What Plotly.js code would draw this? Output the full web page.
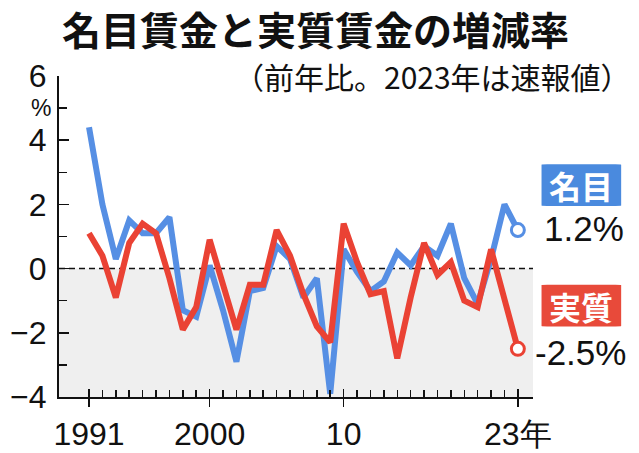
<!DOCTYPE html>
<html>
<head>
<meta charset="utf-8">
<script src="https://cdn.plot.ly/plotly-3.0.1.min.js"></script>
<style>
  body { margin: 0; background: #fff; }
  #myDiv { width: 639px; height: 453px; }
</style>
</head>
<body>
<div id="myDiv"></div>
<script>
var years = [1991, 1992, 1993, 1994, 1995, 1996, 1997, 1998, 1999, 2000,
             2001, 2002, 2003, 2004, 2005, 2006, 2007, 2008, 2009, 2010,
             2011, 2012, 2013, 2014, 2015, 2016, 2017, 2018, 2019, 2020,
             2021, 2022, 2023];
// 名目賃金 (nominal)
var nominal = [4.4, 2.0, 0.3, 1.5, 1.1, 1.1, 1.6, -1.3, -1.5, 0.1,
               -1.3, -2.9, -0.7, -0.6, 0.7, 0.3, -0.9, -0.3, -3.9, 0.6,
               -0.1, -0.7, -0.4, 0.5, 0.1, 0.7, 0.4, 1.4, -0.3, -1.1,
               0.3, 2.0, 1.2];
// 実質賃金 (real)
var real = [1.1, 0.4, -0.9, 0.8, 1.4, 1.1, -0.3, -1.9, -1.2, 0.9,
            -0.5, -1.9, -0.5, -0.5, 1.2, 0.4, -0.8, -1.8, -2.3, 1.4,
            0.2, -0.8, -0.7, -2.8, -0.9, 0.8, -0.2, 0.2, -1.0, -1.2,
            0.6, -1.0, -2.5];
var xTickVals = [1991, 2000, 2010, 2023];
var xTickText = ['1991', '2000', '10', '23年'];
var yTickVals = [-4, -2, 0, 2, 4, 6];
var yTickText = ['−4', '−2', '0', '2', '4', '6'];

var blue = 'rgb(86,143,228)';
var red = 'rgb(234,66,52)';
var last = years.length - 1;

var trace1 = {
  x: years, y: nominal, type: 'scatter', mode: 'lines',
  line: {color: blue, width: 6}, hoverinfo: 'skip'
};
var trace2 = {
  x: years, y: real, type: 'scatter', mode: 'lines',
  line: {color: red, width: 6}, hoverinfo: 'skip'
};
var end1 = {
  x: [years[last]], y: [nominal[last]], type: 'scatter', mode: 'markers',
  marker: {size: 13, color: '#fff', line: {color: blue, width: 3}}
};
var end2 = {
  x: [years[last]], y: [real[last]], type: 'scatter', mode: 'markers',
  marker: {size: 13, color: '#fff', line: {color: red, width: 3}}
};
// dummy trace so the overlay axis draws
var ghost = {x: [years[0]], y: [0], xaxis: 'x2', mode: 'markers',
  marker: {opacity: 0}, hoverinfo: 'skip'};

var tickFont = {family: 'Liberation Sans, Arial, sans-serif', size: 32, color: '#111'};
var xRange = [1988.76, 2024.13];

// rounded label boxes, in paper coords
function roundBox(x0, y0, x1, y1, r, color) {
  var p = 'M' + (x0 + r) + ',' + y0 + ' L' + (x1 - r) + ',' + y0 +
          ' Q' + x1 + ',' + y0 + ' ' + x1 + ',' + (y0 + r) +
          ' L' + x1 + ',' + (y1 - r) + ' Q' + x1 + ',' + y1 + ' ' + (x1 - r) + ',' + y1 +
          ' L' + (x0 + r) + ',' + y1 + ' Q' + x0 + ',' + y1 + ' ' + x0 + ',' + (y1 - r) +
          ' L' + x0 + ',' + (y0 + r) + ' Q' + x0 + ',' + y0 + ' ' + (x0 + r) + ',' + y0 + ' Z';
  return {type: 'path', xref: 'x domain', yref: 'y', path: p, fillcolor: color, line: {width: 0}};
}

var layout = {
  width: 639, height: 453,
  margin: {l: 59, r: 106, t: 76, b: 56},
  showlegend: false,
  paper_bgcolor: '#fff', plot_bgcolor: 'rgba(0,0,0,0)',
  xaxis: {
    range: xRange, showgrid: false, zeroline: false,
    showline: true, linecolor: '#111', linewidth: 2,
    tickmode: 'array', tickvals: xTickVals, ticktext: xTickText,
    ticks: 'outside', ticklen: 8, tickwidth: 1.5, tickcolor: '#111',
    tickfont: tickFont,
    minor: {tickmode: 'array', tickvals: years, ticks: 'inside', ticklen: 7, tickwidth: 1.5, tickcolor: '#111'}
  },
  xaxis2: {
    range: xRange, overlaying: 'x', anchor: 'y', side: 'bottom',
    showgrid: false, zeroline: false, showline: false,
    tickmode: 'array', tickvals: xTickVals, showticklabels: false,
    ticks: 'inside', ticklen: 8, tickwidth: 1.5, tickcolor: '#111'
  },
  yaxis: {
    range: [-4, 6], showgrid: false, zeroline: false,
    showline: true, linecolor: '#111', linewidth: 2,
    tickmode: 'array', tickvals: yTickVals, ticktext: yTickText,
    ticks: 'inside', ticklen: 10, tickwidth: 1.5, tickcolor: '#111',
    tickfont: tickFont, ticklabelstandoff: 4,
    minor: {tickmode: 'array', tickvals: [-3, -1, 1, 3, 5], ticks: 'inside', ticklen: 8, tickwidth: 1.5, tickcolor: '#111'}
  },
  shapes: [
    {type: 'rect', xref: 'paper', yref: 'y', x0: 0, x1: 1, y0: -4, y1: 0,
     fillcolor: '#efefef', line: {width: 0}, layer: 'below'},
    {type: 'line', xref: 'paper', yref: 'y', x0: 0, x1: 1, y0: 0, y1: 0,
     line: {color: '#111', width: 1.5, dash: '6px,4px'}, layer: 'below'},
    roundBox(1.018, 1.95, 1.186, 3.25, 0.012, 'rgb(74,138,222)'),
    roundBox(1.018, -1.8, 1.186, -0.5, 0.012, 'rgb(232,74,58)')
  ],
  annotations: [
    {text: '<b>名目賃金と実質賃金の増減率</b>', xref: 'paper', yref: 'paper',
     x: 0.542, y: 1, xanchor: 'center', yanchor: 'bottom', yshift: 18, showarrow: false,
     font: {family: 'Noto Sans CJK JP', size: 39, color: '#111'}},
    {text: '（前年比。2023年は速報値）', xref: 'paper', yref: 'paper',
     x: 1.21, y: 1, xanchor: 'right', yanchor: 'bottom', yshift: -24, showarrow: false,
     font: {family: 'Noto Sans CJK JP', size: 30, color: '#111'}},
    {text: '%', xref: 'paper', yref: 'y', x: 0, y: 5, xanchor: 'right', xshift: -6, yshift: 0,
     showarrow: false, font: {family: 'Liberation Sans, Arial, sans-serif', size: 23, color: '#111'}},
    {text: '<b>名目</b>', xref: 'paper', yref: 'y', x: 1.102, y: 2.6, xanchor: 'center',
     showarrow: false, font: {family: 'Noto Sans CJK JP', size: 32, color: '#fff'}},
    {text: '1.2%', xref: 'paper', yref: 'y', x: 1.02, y: 1.25, xanchor: 'left',
     showarrow: false, font: {family: 'Liberation Sans, Arial, sans-serif', size: 35, color: '#111'}},
    {text: '<b>実質</b>', xref: 'paper', yref: 'y', x: 1.102, y: -1.15, xanchor: 'center',
     showarrow: false, font: {family: 'Noto Sans CJK JP', size: 32, color: '#fff'}},
    {text: '-2.5%', xref: 'paper', yref: 'y', x: 1.0, y: -2.6, xanchor: 'left',
     showarrow: false, font: {family: 'Liberation Sans, Arial, sans-serif', size: 35, color: '#111'}}
  ]
};

Plotly.newPlot('myDiv', [ghost, trace1, trace2, end1, end2], layout, {displayModeBar: false, staticPlot: true});
</script>
</body>
</html>
